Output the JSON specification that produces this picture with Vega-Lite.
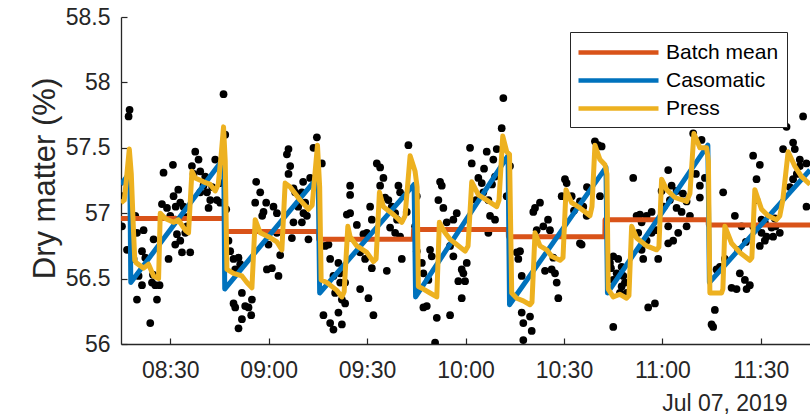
{
  "$schema": "https://vega.github.io/schema/vega-lite/v6.json",
  "width": 689,
  "height": 327,
  "autosize": "none",
  "padding": {"left": 121, "top": 17, "right": 0, "bottom": 72},
  "background": "white",
  "config": {"view": {"stroke": null}, "font": "Liberation Sans"},
  "datasets": {
    "dots": [
      {"time":"2019-07-07T08:15:18","value":56.90},{"time":"2019-07-07T08:16:50","value":56.72},{"time":"2019-07-07T08:17:37","value":57.79},{"time":"2019-07-07T08:17:19","value":57.74},
      {"time":"2019-07-07T08:19:21","value":56.98},{"time":"2019-07-07T08:19:52","value":56.85},{"time":"2019-07-07T08:18:50","value":56.65},{"time":"2019-07-07T08:21:24","value":56.71},
      {"time":"2019-07-07T08:21:53","value":56.87},{"time":"2019-07-07T08:22:24","value":56.66},{"time":"2019-07-07T08:20:22","value":56.52},{"time":"2019-07-07T08:21:24","value":56.45},
      {"time":"2019-07-07T08:19:52","value":56.34},{"time":"2019-07-07T08:23:55","value":56.16},{"time":"2019-07-07T08:24:27","value":56.47},{"time":"2019-07-07T08:25:27","value":56.45},
      {"time":"2019-07-07T08:26:45","value":56.45},{"time":"2019-07-07T08:25:58","value":56.34},{"time":"2019-07-07T08:24:56","value":56.80},{"time":"2019-07-07T08:24:45","value":56.53},
      {"time":"2019-07-07T08:27:58","value":57.31},{"time":"2019-07-07T08:30:50","value":57.37},{"time":"2019-07-07T08:27:29","value":57.07},{"time":"2019-07-07T08:29:01","value":57.04},
      {"time":"2019-07-07T08:31:01","value":57.13},{"time":"2019-07-07T08:30:01","value":56.98},{"time":"2019-07-07T08:31:32","value":56.95},{"time":"2019-07-07T08:33:04","value":57.08},
      {"time":"2019-07-07T08:34:04","value":57.05},{"time":"2019-07-07T08:32:03","value":56.84},{"time":"2019-07-07T08:33:04","value":56.79},{"time":"2019-07-07T08:31:32","value":56.76},
      {"time":"2019-07-07T08:29:30","value":56.65},{"time":"2019-07-07T08:33:35","value":56.70},{"time":"2019-07-07T08:36:06","value":56.70},{"time":"2019-07-07T08:34:35","value":56.85},
      {"time":"2019-07-07T08:37:38","value":57.47},{"time":"2019-07-07T08:38:38","value":57.41},{"time":"2019-07-07T08:36:37","value":57.36},{"time":"2019-07-07T08:39:09","value":57.32},
      {"time":"2019-07-07T08:37:07","value":57.30},{"time":"2019-07-07T08:40:09","value":57.21},{"time":"2019-07-07T08:41:12","value":57.16},{"time":"2019-07-07T08:42:12","value":57.10},
      {"time":"2019-07-07T08:41:41","value":57.04},{"time":"2019-07-07T08:43:43","value":57.41},{"time":"2019-07-07T08:44:14","value":57.10},{"time":"2019-07-07T08:45:15","value":57.08},
      {"time":"2019-07-07T08:46:15","value":57.91},{"time":"2019-07-07T08:39:09","value":57.16},{"time":"2019-07-07T08:46:46","value":57.60},{"time":"2019-07-07T08:47:04","value":57.03},
      {"time":"2019-07-07T08:47:46","value":56.79},{"time":"2019-07-07T08:48:17","value":56.71},{"time":"2019-07-07T08:49:18","value":56.65},{"time":"2019-07-07T08:50:49","value":56.66},
      {"time":"2019-07-07T08:49:49","value":56.57},{"time":"2019-07-07T08:51:20","value":56.61},{"time":"2019-07-07T08:49:18","value":56.31},{"time":"2019-07-07T08:49:49","value":56.28},
      {"time":"2019-07-07T08:51:51","value":56.39},{"time":"2019-07-07T08:52:51","value":56.29},{"time":"2019-07-07T08:54:54","value":56.34},{"time":"2019-07-07T08:53:52","value":56.28},
      {"time":"2019-07-07T08:51:51","value":56.19},{"time":"2019-07-07T08:50:49","value":56.12},{"time":"2019-07-07T08:54:41","value":56.22},{"time":"2019-07-07T08:56:12","value":57.24},
      {"time":"2019-07-07T08:57:26","value":57.16},{"time":"2019-07-07T08:55:54","value":57.08},{"time":"2019-07-07T08:59:15","value":57.08},{"time":"2019-07-07T08:58:26","value":57.01},
      {"time":"2019-07-07T09:01:29","value":57.05},{"time":"2019-07-07T09:02:31","value":57.00},{"time":"2019-07-07T08:59:57","value":56.76},{"time":"2019-07-07T08:59:28","value":56.57},
      {"time":"2019-07-07T09:00:59","value":56.58},{"time":"2019-07-07T09:03:00","value":56.52},{"time":"2019-07-07T09:03:31","value":56.68},{"time":"2019-07-07T09:05:34","value":57.45},
      {"time":"2019-07-07T09:06:03","value":57.49},{"time":"2019-07-07T09:06:34","value":57.36},{"time":"2019-07-07T09:06:03","value":57.30},{"time":"2019-07-07T09:07:34","value":57.19},
      {"time":"2019-07-07T09:08:05","value":57.16},{"time":"2019-07-07T09:10:08","value":57.16},{"time":"2019-07-07T09:11:08","value":57.08},{"time":"2019-07-07T09:12:39","value":57.27},
      {"time":"2019-07-07T09:07:34","value":56.93},{"time":"2019-07-07T09:07:05","value":56.81},{"time":"2019-07-07T09:11:39","value":56.98},{"time":"2019-07-07T09:12:08","value":56.80},
      {"time":"2019-07-07T09:10:08","value":56.93},{"time":"2019-07-07T09:14:42","value":57.58},{"time":"2019-07-07T09:13:40","value":57.50},{"time":"2019-07-07T09:16:13","value":57.38},
      {"time":"2019-07-07T09:17:13","value":56.75},{"time":"2019-07-07T09:18:14","value":56.76},{"time":"2019-07-07T09:18:45","value":56.65},{"time":"2019-07-07T09:21:16","value":56.62},
      {"time":"2019-07-07T09:19:45","value":56.52},{"time":"2019-07-07T09:21:48","value":56.54},{"time":"2019-07-07T09:21:48","value":56.47},{"time":"2019-07-07T09:23:19","value":56.47},
      {"time":"2019-07-07T09:20:16","value":56.39},{"time":"2019-07-07T09:22:19","value":56.34},{"time":"2019-07-07T09:23:19","value":56.31},{"time":"2019-07-07T09:16:42","value":56.22},
      {"time":"2019-07-07T09:18:45","value":56.16},{"time":"2019-07-07T09:19:45","value":56.11},{"time":"2019-07-07T09:21:16","value":56.24},{"time":"2019-07-07T09:22:19","value":56.15},
      {"time":"2019-07-07T09:24:50","value":57.21},{"time":"2019-07-07T09:24:50","value":57.14},{"time":"2019-07-07T09:23:50","value":56.99},{"time":"2019-07-07T09:24:50","value":57.00},
      {"time":"2019-07-07T09:26:53","value":56.91},{"time":"2019-07-07T09:28:53","value":56.84},{"time":"2019-07-07T09:29:55","value":56.85},{"time":"2019-07-07T09:27:53","value":56.70},
      {"time":"2019-07-07T09:29:24","value":56.65},{"time":"2019-07-07T09:31:27","value":56.58},{"time":"2019-07-07T09:27:53","value":56.42},{"time":"2019-07-07T09:30:25","value":56.35},
      {"time":"2019-07-07T09:31:56","value":56.22},{"time":"2019-07-07T09:30:56","value":57.05},{"time":"2019-07-07T09:31:27","value":56.95},{"time":"2019-07-07T09:32:58","value":57.38},
      {"time":"2019-07-07T09:33:59","value":57.35},{"time":"2019-07-07T09:34:59","value":57.27},{"time":"2019-07-07T09:33:59","value":57.21},{"time":"2019-07-07T09:36:30","value":57.10},
      {"time":"2019-07-07T09:37:32","value":57.05},{"time":"2019-07-07T09:39:33","value":57.21},{"time":"2019-07-07T09:40:04","value":57.16},{"time":"2019-07-07T09:41:35","value":57.13},
      {"time":"2019-07-07T09:42:06","value":57.01},{"time":"2019-07-07T09:38:33","value":57.00},{"time":"2019-07-07T09:37:01","value":56.89},{"time":"2019-07-07T09:38:33","value":56.85},
      {"time":"2019-07-07T09:40:04","value":56.82},{"time":"2019-07-07T09:40:35","value":56.65},{"time":"2019-07-07T09:36:01","value":56.56},{"time":"2019-07-07T09:42:36","value":57.52},
      {"time":"2019-07-07T09:45:09","value":57.13},{"time":"2019-07-07T09:45:09","value":56.71},{"time":"2019-07-07T09:46:41","value":56.62},{"time":"2019-07-07T09:49:12","value":56.72},
      {"time":"2019-07-07T09:49:43","value":56.67},{"time":"2019-07-07T09:47:10","value":56.54},{"time":"2019-07-07T09:48:41","value":56.49},{"time":"2019-07-07T09:48:12","value":56.29},
      {"time":"2019-07-07T09:51:15","value":56.20},{"time":"2019-07-07T09:50:44","value":56.01},{"time":"2019-07-07T09:52:15","value":57.24},{"time":"2019-07-07T09:52:46","value":57.21},
      {"time":"2019-07-07T09:51:44","value":57.10},{"time":"2019-07-07T09:53:15","value":57.04},{"time":"2019-07-07T09:54:17","value":56.93},{"time":"2019-07-07T09:56:18","value":56.95},
      {"time":"2019-07-07T09:57:20","value":57.00},{"time":"2019-07-07T09:55:18","value":56.75},{"time":"2019-07-07T09:56:18","value":56.67},{"time":"2019-07-07T09:58:51","value":56.57},
      {"time":"2019-07-07T09:57:49","value":56.48},{"time":"2019-07-07T09:59:52","value":56.48},{"time":"2019-07-07T10:00:23","value":56.62},{"time":"2019-07-07T09:58:51","value":56.35},
      {"time":"2019-07-07T09:55:18","value":56.22},{"time":"2019-07-07T10:01:23","value":57.50},{"time":"2019-07-07T10:01:54","value":57.38},{"time":"2019-07-07T10:03:55","value":57.27},
      {"time":"2019-07-07T10:04:57","value":57.23},{"time":"2019-07-07T10:06:28","value":57.47},{"time":"2019-07-07T10:05:26","value":57.16},{"time":"2019-07-07T10:06:58","value":57.10},
      {"time":"2019-07-07T10:07:29","value":56.98},{"time":"2019-07-07T10:09:00","value":56.95},{"time":"2019-07-07T10:06:58","value":56.85},{"time":"2019-07-07T10:08:29","value":57.41},
      {"time":"2019-07-07T10:09:00","value":57.28},{"time":"2019-07-07T10:11:02","value":57.65},{"time":"2019-07-07T10:11:32","value":57.88},{"time":"2019-07-07T10:09:31","value":57.49},
      {"time":"2019-07-07T10:12:34","value":57.13},{"time":"2019-07-07T10:13:34","value":57.36},{"time":"2019-07-07T10:15:37","value":56.70},{"time":"2019-07-07T10:16:06","value":56.65},
      {"time":"2019-07-07T10:17:08","value":56.52},{"time":"2019-07-07T10:17:08","value":56.24},{"time":"2019-07-07T10:17:37","value":56.16},{"time":"2019-07-07T10:19:40","value":56.21},
      {"time":"2019-07-07T10:20:11","value":56.10},{"time":"2019-07-07T10:17:37","value":56.03},{"time":"2019-07-07T10:20:40","value":57.01},{"time":"2019-07-07T10:22:42","value":57.08},
      {"time":"2019-07-07T10:21:42","value":56.87},{"time":"2019-07-07T10:23:43","value":56.90},{"time":"2019-07-07T10:25:45","value":56.87},{"time":"2019-07-07T10:24:14","value":56.56},
      {"time":"2019-07-07T10:26:16","value":56.57},{"time":"2019-07-07T10:27:17","value":56.54},{"time":"2019-07-07T10:27:48","value":56.47},{"time":"2019-07-07T10:28:17","value":56.35},
      {"time":"2019-07-07T10:29:19","value":57.13},{"time":"2019-07-07T10:30:19","value":57.26},{"time":"2019-07-07T10:32:22","value":57.13},{"time":"2019-07-07T10:34:53","value":57.09},
      {"time":"2019-07-07T10:34:53","value":56.77},{"time":"2019-07-07T10:39:27","value":57.55},{"time":"2019-07-07T10:40:28","value":57.52},{"time":"2019-07-07T10:41:30","value":57.51},
      {"time":"2019-07-07T10:40:59","value":57.13},{"time":"2019-07-07T10:35:54","value":57.05},{"time":"2019-07-07T10:35:24","value":56.76},{"time":"2019-07-07T10:45:02","value":56.67},
      {"time":"2019-07-07T10:46:33","value":56.65},{"time":"2019-07-07T10:44:02","value":56.62},{"time":"2019-07-07T10:47:35","value":56.59},{"time":"2019-07-07T10:46:04","value":56.54},
      {"time":"2019-07-07T10:48:05","value":56.52},{"time":"2019-07-07T10:45:02","value":56.49},{"time":"2019-07-07T10:47:35","value":56.44},{"time":"2019-07-07T10:49:07","value":56.39},
      {"time":"2019-07-07T10:45:02","value":56.13},{"time":"2019-07-07T10:55:41","value":56.28},{"time":"2019-07-07T10:57:44","value":56.31},{"time":"2019-07-07T10:51:07","value":57.27},
      {"time":"2019-07-07T10:52:09","value":56.98},{"time":"2019-07-07T10:53:41","value":56.93},{"time":"2019-07-07T10:55:12","value":56.98},{"time":"2019-07-07T10:56:44","value":57.01},
      {"time":"2019-07-07T10:52:39","value":56.85},{"time":"2019-07-07T10:55:12","value":56.79},{"time":"2019-07-07T10:58:15","value":56.87},{"time":"2019-07-07T10:53:41","value":56.72},
      {"time":"2019-07-07T10:58:44","value":56.65},{"time":"2019-07-07T10:54:10","value":56.65},{"time":"2019-07-07T11:01:47","value":57.33},{"time":"2019-07-07T10:59:46","value":57.17},
      {"time":"2019-07-07T11:02:49","value":57.21},{"time":"2019-07-07T11:02:18","value":57.10},{"time":"2019-07-07T11:04:20","value":57.04},{"time":"2019-07-07T11:05:52","value":57.01},
      {"time":"2019-07-07T11:01:47","value":56.90},{"time":"2019-07-07T11:04:50","value":56.85},{"time":"2019-07-07T11:07:23","value":56.90},{"time":"2019-07-07T11:08:24","value":56.98},
      {"time":"2019-07-07T11:03:18","value":56.79},{"time":"2019-07-07T11:11:26","value":57.21},{"time":"2019-07-07T11:11:26","value":57.12},{"time":"2019-07-07T11:11:57","value":57.56},
      {"time":"2019-07-07T11:09:24","value":57.61},{"time":"2019-07-07T11:18:32","value":57.16},{"time":"2019-07-07T11:16:00","value":56.26},{"time":"2019-07-07T11:15:29","value":56.13},
      {"time":"2019-07-07T11:16:31","value":56.57},{"time":"2019-07-07T11:19:03","value":56.65},{"time":"2019-07-07T11:22:37","value":56.42},{"time":"2019-07-07T11:21:06","value":56.43},
      {"time":"2019-07-07T11:25:09","value":56.49},{"time":"2019-07-07T11:26:40","value":56.45},{"time":"2019-07-07T11:23:37","value":56.54},{"time":"2019-07-07T11:22:06","value":56.98},
      {"time":"2019-07-07T11:24:08","value":56.90},{"time":"2019-07-07T11:23:06","value":56.72},{"time":"2019-07-07T11:27:40","value":57.44},{"time":"2019-07-07T11:29:43","value":57.37},
      {"time":"2019-07-07T11:28:42","value":57.26},{"time":"2019-07-07T11:28:42","value":57.10},{"time":"2019-07-07T11:27:40","value":56.90},{"time":"2019-07-07T11:30:14","value":56.95},
      {"time":"2019-07-07T11:31:14","value":56.93},{"time":"2019-07-07T11:33:17","value":56.89},{"time":"2019-07-07T11:30:14","value":56.85},{"time":"2019-07-07T11:31:14","value":56.79},
      {"time":"2019-07-07T11:29:43","value":56.75},{"time":"2019-07-07T11:35:48","value":56.85},{"time":"2019-07-07T11:36:48","value":57.49},{"time":"2019-07-07T11:39:51","value":57.54},
      {"time":"2019-07-07T11:42:54","value":57.74},{"time":"2019-07-07T11:37:51","value":57.66},{"time":"2019-07-07T11:41:54","value":57.41},{"time":"2019-07-07T11:43:56","value":57.38},
      {"time":"2019-07-07T11:43:56","value":57.05},{"time":"2019-07-07T11:15:00","value":56.15},
      {"time":"2019-07-07T08:31:40","value":57.05},{"time":"2019-07-07T08:32:27","value":57.18},{"time":"2019-07-07T08:34:53","value":56.97},{"time":"2019-07-07T08:40:41","value":57.28},
      {"time":"2019-07-07T08:42:48","value":57.20},{"time":"2019-07-07T08:58:02","value":56.98},{"time":"2019-07-07T09:09:00","value":57.05},{"time":"2019-07-07T09:10:31","value":57.24},
      {"time":"2019-07-07T09:35:30","value":57.12},{"time":"2019-07-07T09:39:09","value":56.95},{"time":"2019-07-07T10:03:13","value":57.10},{"time":"2019-07-07T10:05:39","value":57.34},
      {"time":"2019-07-07T10:08:05","value":57.22},{"time":"2019-07-07T10:25:09","value":56.95},{"time":"2019-07-07T10:33:04","value":57.02},{"time":"2019-07-07T10:37:01","value":57.20},
      {"time":"2019-07-07T11:00:28","value":57.05},{"time":"2019-07-07T11:06:16","value":57.15},{"time":"2019-07-07T11:10:13","value":57.30},{"time":"2019-07-07T11:25:27","value":56.78},
      {"time":"2019-07-07T11:34:17","value":56.96},{"time":"2019-07-07T11:38:51","value":57.20},{"time":"2019-07-07T11:40:59","value":57.30},
      {"time":"2019-07-07T08:15:18","value":57.13},{"time":"2019-07-07T08:35:06","value":56.90},{"time":"2019-07-07T08:45:15","value":57.23},{"time":"2019-07-07T09:02:31","value":56.85},
      {"time":"2019-07-07T09:10:37","value":57.00},{"time":"2019-07-07T09:44:38","value":56.90},{"time":"2019-07-07T09:47:10","value":56.28},{"time":"2019-07-07T09:59:21","value":56.54},
      {"time":"2019-07-07T10:16:37","value":56.71},{"time":"2019-07-07T10:21:11","value":57.04},{"time":"2019-07-07T10:26:46","value":56.66},{"time":"2019-07-07T10:30:50","value":57.23},
      {"time":"2019-07-07T10:36:56","value":56.98},{"time":"2019-07-07T10:47:04","value":56.39},{"time":"2019-07-07T10:53:10","value":56.99},{"time":"2019-07-07T10:56:44","value":56.85},
      {"time":"2019-07-07T11:04:20","value":57.17},{"time":"2019-07-07T11:07:23","value":57.09},{"time":"2019-07-07T11:01:47","value":56.77},{"time":"2019-07-07T11:12:58","value":57.27},
      {"time":"2019-07-07T11:17:32","value":56.59},{"time":"2019-07-07T11:25:40","value":56.42},{"time":"2019-07-07T11:31:45","value":56.82},{"time":"2019-07-07T11:33:46","value":56.82},
      {"time":"2019-07-07T11:34:30","value":56.90},{"time":"2019-07-07T11:40:22","value":57.49},{"time":"2019-07-07T11:41:54","value":57.36},{"time":"2019-07-07T11:39:51","value":57.26},
      {"time":"2019-07-07T10:44:20","value":56.58},{"time":"2019-07-07T10:48:36","value":56.47}
    ],
    "mean": [
      {"series":"Batch mean","time":"2019-07-07T08:15:00","value":56.96},{"series":"Batch mean","time":"2019-07-07T08:46:31","value":56.96},
      {"series":"Batch mean","time":"2019-07-07T08:46:35","value":56.86},{"series":"Batch mean","time":"2019-07-07T09:15:09","value":56.86},
      {"series":"Batch mean","time":"2019-07-07T09:15:13","value":56.80},{"series":"Batch mean","time":"2019-07-07T09:44:05","value":56.80},
      {"series":"Batch mean","time":"2019-07-07T09:44:09","value":56.875},{"series":"Batch mean","time":"2019-07-07T10:13:01","value":56.875},
      {"series":"Batch mean","time":"2019-07-07T10:13:05","value":56.82},{"series":"Batch mean","time":"2019-07-07T10:42:28","value":56.82},
      {"series":"Batch mean","time":"2019-07-07T10:42:32","value":56.95},{"series":"Batch mean","time":"2019-07-07T11:13:56","value":56.95},
      {"series":"Batch mean","time":"2019-07-07T11:14:00","value":56.91},{"series":"Batch mean","time":"2019-07-07T11:45:00","value":56.91}
    ],
    "caso": [
      {"series":"Casomatic","time":"2019-07-07T08:15:00","value":57.22},{"series":"Casomatic","time":"2019-07-07T08:17:41","value":57.31},
      {"series":"Casomatic","time":"2019-07-07T08:17:59","value":56.47},{"series":"Casomatic","time":"2019-07-07T08:46:19","value":57.42},
      {"series":"Casomatic","time":"2019-07-07T08:46:37","value":56.42},{"series":"Casomatic","time":"2019-07-07T09:15:06","value":57.28},
      {"series":"Casomatic","time":"2019-07-07T09:15:33","value":56.39},{"series":"Casomatic","time":"2019-07-07T09:44:20","value":57.22},
      {"series":"Casomatic","time":"2019-07-07T09:44:47","value":56.36},{"series":"Casomatic","time":"2019-07-07T10:12:58","value":57.44},
      {"series":"Casomatic","time":"2019-07-07T10:13:25","value":56.30},{"series":"Casomatic","time":"2019-07-07T10:42:49","value":57.35},
      {"series":"Casomatic","time":"2019-07-07T10:43:16","value":56.39},{"series":"Casomatic","time":"2019-07-07T11:13:52","value":57.52},
      {"series":"Casomatic","time":"2019-07-07T11:14:20","value":56.47},{"series":"Casomatic","time":"2019-07-07T11:45:00","value":57.33}
    ],
    "press": [
      {"series":"Press","time":"2019-07-07T08:15:00","value":57.08},{"series":"Press","time":"2019-07-07T08:16:00","value":57.10},
      {"series":"Press","time":"2019-07-07T08:16:37","value":57.25},{"series":"Press","time":"2019-07-07T08:17:32","value":57.49},
      {"series":"Press","time":"2019-07-07T08:18:08","value":57.30},{"series":"Press","time":"2019-07-07T08:18:45","value":56.90},
      {"series":"Press","time":"2019-07-07T08:19:12","value":56.64},{"series":"Press","time":"2019-07-07T08:19:40","value":56.62},
      {"series":"Press","time":"2019-07-07T08:21:53","value":56.58},{"series":"Press","time":"2019-07-07T08:23:24","value":56.61},
      {"series":"Press","time":"2019-07-07T08:24:56","value":56.52},{"series":"Press","time":"2019-07-07T08:26:27","value":56.50},
      {"series":"Press","time":"2019-07-07T08:26:58","value":57.00},{"series":"Press","time":"2019-07-07T08:28:30","value":56.96},
      {"series":"Press","time":"2019-07-07T08:31:01","value":56.93},{"series":"Press","time":"2019-07-07T08:32:27","value":56.95},
      {"series":"Press","time":"2019-07-07T08:34:35","value":56.87},{"series":"Press","time":"2019-07-07T08:35:35","value":56.85},
      {"series":"Press","time":"2019-07-07T08:36:37","value":57.32},{"series":"Press","time":"2019-07-07T08:37:38","value":57.27},
      {"series":"Press","time":"2019-07-07T08:40:09","value":57.24},{"series":"Press","time":"2019-07-07T08:42:12","value":57.22},
      {"series":"Press","time":"2019-07-07T08:43:43","value":57.17},{"series":"Press","time":"2019-07-07T08:44:38","value":57.22},
      {"series":"Press","time":"2019-07-07T08:45:33","value":57.45},{"series":"Press","time":"2019-07-07T08:46:15","value":57.66},
      {"series":"Press","time":"2019-07-07T08:46:46","value":57.40},{"series":"Press","time":"2019-07-07T08:47:17","value":56.57},
      {"series":"Press","time":"2019-07-07T08:49:18","value":56.54},{"series":"Press","time":"2019-07-07T08:51:51","value":56.52},
      {"series":"Press","time":"2019-07-07T08:53:23","value":56.47},{"series":"Press","time":"2019-07-07T08:54:54","value":56.43},
      {"series":"Press","time":"2019-07-07T08:55:54","value":56.95},{"series":"Press","time":"2019-07-07T08:57:26","value":56.85},
      {"series":"Press","time":"2019-07-07T08:59:57","value":56.82},{"series":"Press","time":"2019-07-07T09:02:31","value":56.78},
      {"series":"Press","time":"2019-07-07T09:04:02","value":56.72},{"series":"Press","time":"2019-07-07T09:05:02","value":57.23},
      {"series":"Press","time":"2019-07-07T09:06:34","value":57.20},{"series":"Press","time":"2019-07-07T09:09:37","value":57.10},
      {"series":"Press","time":"2019-07-07T09:12:08","value":57.03},{"series":"Press","time":"2019-07-07T09:13:16","value":57.06},
      {"series":"Press","time":"2019-07-07T09:14:53","value":57.52},{"series":"Press","time":"2019-07-07T09:15:33","value":57.20},
      {"series":"Press","time":"2019-07-07T09:16:00","value":56.49},{"series":"Press","time":"2019-07-07T09:17:44","value":56.47},
      {"series":"Press","time":"2019-07-07T09:20:47","value":56.41},{"series":"Press","time":"2019-07-07T09:22:19","value":56.36},
      {"series":"Press","time":"2019-07-07T09:23:01","value":56.40},{"series":"Press","time":"2019-07-07T09:24:08","value":56.90},
      {"series":"Press","time":"2019-07-07T09:24:50","value":56.82},{"series":"Press","time":"2019-07-07T09:26:53","value":56.75},
      {"series":"Press","time":"2019-07-07T09:29:55","value":56.70},{"series":"Press","time":"2019-07-07T09:31:56","value":56.63},
      {"series":"Press","time":"2019-07-07T09:32:45","value":56.65},{"series":"Press","time":"2019-07-07T09:33:46","value":57.16},
      {"series":"Press","time":"2019-07-07T09:34:59","value":57.05},{"series":"Press","time":"2019-07-07T09:38:02","value":56.99},
      {"series":"Press","time":"2019-07-07T09:40:35","value":56.93},{"series":"Press","time":"2019-07-07T09:41:35","value":56.98},
      {"series":"Press","time":"2019-07-07T09:43:07","value":57.44},{"series":"Press","time":"2019-07-07T09:44:38","value":57.32},
      {"series":"Press","time":"2019-07-07T09:45:15","value":57.20},{"series":"Press","time":"2019-07-07T09:45:38","value":56.44},
      {"series":"Press","time":"2019-07-07T09:47:10","value":56.42},{"series":"Press","time":"2019-07-07T09:49:12","value":56.39},
      {"series":"Press","time":"2019-07-07T09:51:15","value":56.36},{"series":"Press","time":"2019-07-07T09:52:02","value":56.93},
      {"series":"Press","time":"2019-07-07T09:53:46","value":56.85},{"series":"Press","time":"2019-07-07T09:55:18","value":56.80},
      {"series":"Press","time":"2019-07-07T09:57:20","value":56.76},{"series":"Press","time":"2019-07-07T09:59:52","value":56.71},
      {"series":"Press","time":"2019-07-07T10:00:47","value":56.75},{"series":"Press","time":"2019-07-07T10:01:54","value":57.24},
      {"series":"Press","time":"2019-07-07T10:03:55","value":57.14},{"series":"Press","time":"2019-07-07T10:06:28","value":57.10},
      {"series":"Press","time":"2019-07-07T10:09:31","value":57.05},{"series":"Press","time":"2019-07-07T10:10:13","value":57.10},
      {"series":"Press","time":"2019-07-07T10:11:21","value":57.59},{"series":"Press","time":"2019-07-07T10:12:34","value":57.47},
      {"series":"Press","time":"2019-07-07T10:13:25","value":57.45},{"series":"Press","time":"2019-07-07T10:14:05","value":56.39},
      {"series":"Press","time":"2019-07-07T10:15:37","value":56.35},{"series":"Press","time":"2019-07-07T10:17:37","value":56.33},
      {"series":"Press","time":"2019-07-07T10:19:40","value":56.30},{"series":"Press","time":"2019-07-07T10:20:16","value":56.32},
      {"series":"Press","time":"2019-07-07T10:21:11","value":56.85},{"series":"Press","time":"2019-07-07T10:22:42","value":56.75},
      {"series":"Press","time":"2019-07-07T10:24:45","value":56.72},{"series":"Press","time":"2019-07-07T10:26:16","value":56.67},
      {"series":"Press","time":"2019-07-07T10:28:48","value":56.64},{"series":"Press","time":"2019-07-07T10:29:43","value":56.66},
      {"series":"Press","time":"2019-07-07T10:30:38","value":57.18},{"series":"Press","time":"2019-07-07T10:32:22","value":57.08},
      {"series":"Press","time":"2019-07-07T10:34:53","value":57.04},{"series":"Press","time":"2019-07-07T10:37:56","value":56.98},
      {"series":"Press","time":"2019-07-07T10:38:33","value":57.05},{"series":"Press","time":"2019-07-07T10:39:27","value":57.52},
      {"series":"Press","time":"2019-07-07T10:40:59","value":57.41},{"series":"Press","time":"2019-07-07T10:42:30","value":57.37},
      {"series":"Press","time":"2019-07-07T10:43:07","value":57.30},{"series":"Press","time":"2019-07-07T10:43:30","value":56.42},
      {"series":"Press","time":"2019-07-07T10:45:02","value":56.36},{"series":"Press","time":"2019-07-07T10:47:04","value":56.38},
      {"series":"Press","time":"2019-07-07T10:49:07","value":56.35},{"series":"Press","time":"2019-07-07T10:49:49","value":56.37},
      {"series":"Press","time":"2019-07-07T10:50:38","value":56.90},{"series":"Press","time":"2019-07-07T10:52:09","value":56.81},
      {"series":"Press","time":"2019-07-07T10:55:12","value":56.75},{"series":"Press","time":"2019-07-07T10:58:15","value":56.72},
      {"series":"Press","time":"2019-07-07T10:58:57","value":56.74},{"series":"Press","time":"2019-07-07T10:59:46","value":57.26},
      {"series":"Press","time":"2019-07-07T11:01:18","value":57.18},{"series":"Press","time":"2019-07-07T11:03:49","value":57.12},
      {"series":"Press","time":"2019-07-07T11:07:23","value":57.09},{"series":"Press","time":"2019-07-07T11:08:24","value":57.15},
      {"series":"Press","time":"2019-07-07T11:09:37","value":57.61},{"series":"Press","time":"2019-07-07T11:11:26","value":57.50},
      {"series":"Press","time":"2019-07-07T11:13:29","value":57.50},{"series":"Press","time":"2019-07-07T11:14:02","value":57.40},
      {"series":"Press","time":"2019-07-07T11:14:29","value":56.39},{"series":"Press","time":"2019-07-07T11:16:00","value":56.39},
      {"series":"Press","time":"2019-07-07T11:18:03","value":56.39},{"series":"Press","time":"2019-07-07T11:18:27","value":56.42},
      {"series":"Press","time":"2019-07-07T11:19:03","value":56.90},{"series":"Press","time":"2019-07-07T11:21:06","value":56.77},
      {"series":"Press","time":"2019-07-07T11:23:37","value":56.70},{"series":"Press","time":"2019-07-07T11:26:40","value":56.64},
      {"series":"Press","time":"2019-07-07T11:27:17","value":56.66},{"series":"Press","time":"2019-07-07T11:28:11","value":57.18},
      {"series":"Press","time":"2019-07-07T11:30:14","value":57.03},{"series":"Press","time":"2019-07-07T11:32:14","value":56.98},
      {"series":"Press","time":"2019-07-07T11:34:48","value":56.95},{"series":"Press","time":"2019-07-07T11:35:48","value":56.98},
      {"series":"Press","time":"2019-07-07T11:36:43","value":57.10},{"series":"Press","time":"2019-07-07T11:38:20","value":57.47},
      {"series":"Press","time":"2019-07-07T11:40:22","value":57.36},{"series":"Press","time":"2019-07-07T11:42:25","value":57.28},
      {"series":"Press","time":"2019-07-07T11:45:00","value":57.22}
    ]
  },
  "layer": [
    {
      "data": {"name": "dots"},
      "mark": {"type": "circle", "color": "black", "opacity": 1, "size": 60, "clip": true},
      "encoding": {
        "x": {
          "field": "time", "type": "temporal",
          "scale": {"domain": [{"year":2019,"month":7,"date":7,"hours":8,"minutes":15},{"year":2019,"month":7,"date":7,"hours":11,"minutes":45}], "nice": false},
          "axis": {
            "title": "Jul 07, 2019", "format": "%H:%M",
            "values": [{"year":2019,"month":7,"date":7,"hours":8,"minutes":30},{"year":2019,"month":7,"date":7,"hours":9,"minutes":0},{"year":2019,"month":7,"date":7,"hours":9,"minutes":30},{"year":2019,"month":7,"date":7,"hours":10,"minutes":0},{"year":2019,"month":7,"date":7,"hours":10,"minutes":30},{"year":2019,"month":7,"date":7,"hours":11,"minutes":0},{"year":2019,"month":7,"date":7,"hours":11,"minutes":30}],
            "grid": false, "tickSize": -6, "tickColor": "#262626", "tickWidth": 1.2,
            "domainColor": "#262626", "domainWidth": 1.3,
            "labelPadding": 21, "labelFontSize": 23, "labelFont": "Liberation Sans", "labelColor": "#262626",
            "labelFlush": false, "labelOverlap": false,
            "titleFontSize": 23, "titleFont": "Liberation Sans", "titleFontWeight": "normal", "titleColor": "#262626",
            "titleX": 666, "titleY": 66, "titleAlign": "right", "titleBaseline": "alphabetic"
          }
        },
        "y": {
          "field": "value", "type": "quantitative",
          "scale": {"domain": [56, 58.5], "nice": false, "zero": false},
          "axis": {
            "title": "Dry matter (%)", "values": [56, 56.5, 57, 57.5, 58, 58.5], "format": "~g",
            "grid": false, "tickSize": -6, "tickColor": "#262626", "tickWidth": 1.2,
            "domainColor": "#262626", "domainWidth": 1.3,
            "labelPadding": 17, "labelFontSize": 23, "labelFont": "Liberation Sans", "labelColor": "#262626",
            "labelFlush": false, "labelOverlap": false,
            "titleFontSize": 31, "titleFont": "Liberation Sans", "titleFontWeight": "normal", "titleColor": "#262626",
            "titleX": -67, "titleY": 161, "titleAngle": 270, "titleAlign": "center", "titleBaseline": "alphabetic"
          }
        }
      }
    },
    {
      "data": {"name": "mean"},
      "mark": {"type": "line", "strokeWidth": 5, "strokeJoin": "round", "clip": true},
      "encoding": {
        "x": {"field": "time", "type": "temporal"},
        "y": {"field": "value", "type": "quantitative"},
        "color": {
          "field": "series", "type": "nominal",
          "scale": {"domain": ["Batch mean", "Casomatic", "Press"], "range": ["#D95319", "#0072BD", "#EDB120"]},
          "legend": {"orient": "none", "legendX": 449, "legendY": 15, "title": null, "symbolType": "M-1.2,0H6.8", "symbolSize": 400, "symbolStrokeWidth": 4.5, "labelFontSize": 21, "labelFont": "Liberation Sans", "labelColor": "black", "labelOffset": 63, "padding": 8, "rowPadding": 5, "strokeColor": "#262626", "fillColor": "white", "labelLimit": 0}
        }
      }
    },
    {
      "data": {"name": "caso"},
      "mark": {"type": "line", "strokeWidth": 5, "strokeJoin": "round", "clip": true},
      "encoding": {
        "x": {"field": "time", "type": "temporal"},
        "y": {"field": "value", "type": "quantitative"},
        "color": {"field": "series", "type": "nominal"}
      }
    },
    {
      "data": {"name": "press"},
      "mark": {"type": "line", "strokeWidth": 5, "strokeJoin": "round", "clip": true},
      "encoding": {
        "x": {"field": "time", "type": "temporal"},
        "y": {"field": "value", "type": "quantitative"},
        "color": {"field": "series", "type": "nominal"}
      }
    }
  ]
}
